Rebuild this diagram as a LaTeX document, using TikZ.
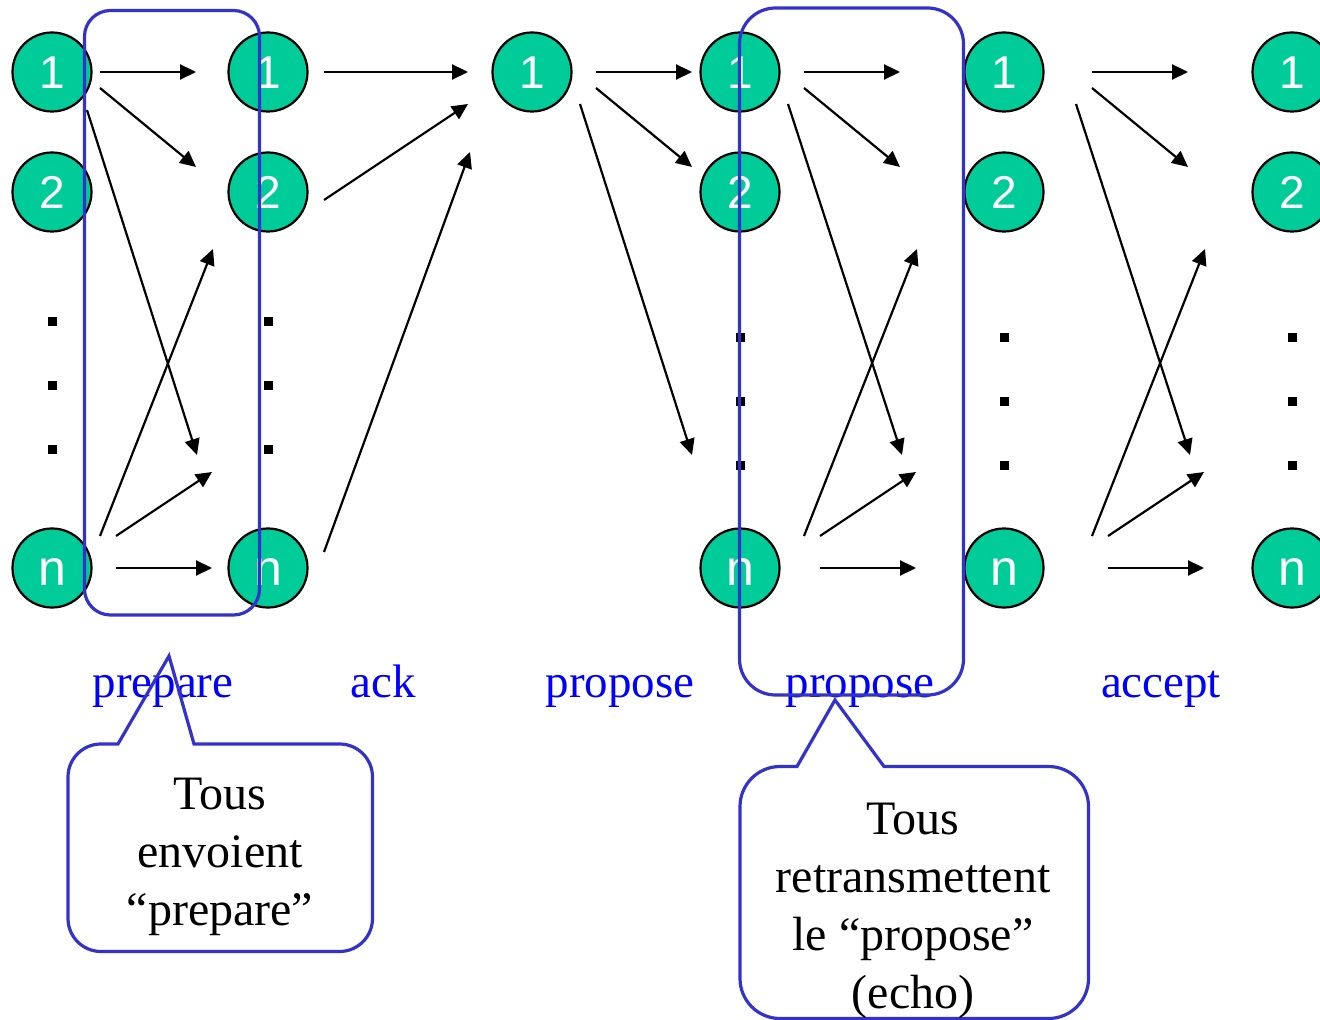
\documentclass[tikz,border=0pt]{standalone}
\usepackage{fontspec}
\setmainfont{Liberation Serif}
\newfontfamily\procfont{Liberation Sans}
\usetikzlibrary{arrows.meta}

\definecolor{procgreen}{RGB}{0,204,153}
\definecolor{frameblue}{RGB}{51,51,204}
\definecolor{phaseblue}{RGB}{0,0,255}

\begin{document}
\begin{tikzpicture}[x=0.5pt,y=-0.5pt,
  proc/.style={circle,draw=black,line width=1.1pt,fill=procgreen,
    minimum size=39.5pt,inner sep=0pt,text=white,
    font=\procfont\fontsize{23pt}{23pt}\selectfont,
    text height=17pt,text depth=0pt},
  procn/.style={proc,font=\procfont\fontsize{25pt}{25pt}\selectfont},
  gap/.style={rectangle,fill=black,minimum size=4.5pt,inner sep=0pt},
  msg/.style={-{Triangle[length=8pt,width=7.5pt]},line width=1.1pt},
  phase/.style={anchor=base,inner sep=0pt,text=phaseblue,
    font=\fontsize{23.5pt}{28pt}\selectfont},
  frame/.style={draw=frameblue,line width=1.6pt},
  note/.style={anchor=north,inner sep=0pt,align=center,
    font=\fontsize{24pt}{29pt}\selectfont},
]
\useasboundingbox (0,0) rectangle (1320,1020);

% ---------- processes ----------
\foreach \c/\x in {1/52,2/268,4/740,5/1004,6/1292}{
  \node[proc]  (c\c n1) at (\x,72)  {1};
  \node[proc]  (c\c n2) at (\x,192) {2};
  \node[procn] (c\c nn) at (\x,568) {n};
}
\node[proc] (c3n1) at (532,72) {1};

% vertical ellipses between process 2 and process n
\foreach \c/\x in {1/52,2/268}{
  \node[gap] (g\c a) at (\x,322) {};
  \node[gap] (g\c b) at (\x,386) {};
  \node[gap] (g\c c) at (\x,450) {};
}
\foreach \c/\x in {4/740,5/1004,6/1292}{
  \node[gap] (g\c a) at (\x,338) {};
  \node[gap] (g\c b) at (\x,402) {};
  \node[gap] (g\c c) at (\x,466) {};
}

% ---------- message end points ----------
% prepare
\coordinate (a1s) at (100,72);   \coordinate (a1e) at (196,72);
\coordinate (a2s) at (100,88);   \coordinate (a2e) at (196,167);
\coordinate (a3s) at (87,110);   \coordinate (a3e) at (197,455);
\coordinate (a4s) at (100,536);  \coordinate (a4e) at (213,249);
\coordinate (a5s) at (116,536);  \coordinate (a5e) at (212,472);
\coordinate (a6s) at (116,568);  \coordinate (a6e) at (212,568);
% ack
\coordinate (b1s) at (324,72);   \coordinate (b1e) at (468,72);
\coordinate (b2s) at (324,200);  \coordinate (b2e) at (468,104);
\coordinate (b3s) at (324,552);  \coordinate (b3e) at (470,152);
% propose
\coordinate (p1s) at (596,72);   \coordinate (p1e) at (692,72);
\coordinate (p2s) at (596,88);   \coordinate (p2e) at (692,167);
\coordinate (p3s) at (580,104);  \coordinate (p3e) at (692,455);
% propose (echo)
\coordinate (e1s) at (804,72);   \coordinate (e1e) at (900,72);
\coordinate (e2s) at (804,88);   \coordinate (e2e) at (900,167);
\coordinate (e3s) at (788,104);  \coordinate (e3e) at (902,455);
\coordinate (e4s) at (804,536);  \coordinate (e4e) at (917,249);
\coordinate (e5s) at (820,536);  \coordinate (e5e) at (916,472);
\coordinate (e6s) at (820,568);  \coordinate (e6e) at (916,568);
% accept
\coordinate (k1s) at (1092,72);  \coordinate (k1e) at (1188,72);
\coordinate (k2s) at (1092,88);  \coordinate (k2e) at (1188,167);
\coordinate (k3s) at (1076,104); \coordinate (k3e) at (1190,455);
\coordinate (k4s) at (1092,536); \coordinate (k4e) at (1205,249);
\coordinate (k5s) at (1108,536); \coordinate (k5e) at (1204,472);
\coordinate (k6s) at (1108,568); \coordinate (k6e) at (1204,568);

\foreach \m in {a1,a2,a3,a4,a5,a6,b1,b2,b3,p1,p2,p3,
                e1,e2,e3,e4,e5,e6,k1,k2,k3,k4,k5,k6}{
  \draw[msg] (\m s) -- (\m e);
}

% ---------- phase names ----------
\node[phase] (lprep) at (163,697)  {prepare};
\node[phase] (lack)  at (383,697)  {ack};
\node[phase] (lprop) at (620,697)  {propose};
\node[phase] (lecho) at (860,697)  {propose};
\node[phase] (lacc)  at (1161,697) {accept};

% ---------- highlighted rounds ----------
\draw[frame,rounded corners=13pt] (84.5,10.5) rectangle (259.5,615);
\draw[frame,rounded corners=18pt] (739.5,8) rectangle (963.5,695);

% ---------- call-outs (sharp pointer, rounded body) ----------
\draw[frame] (169,656) -- (194,744)
  [rounded corners=16.5pt] -- (372.5,744) -- (372.5,951.5) -- (68,951.5)
  -- (68,744) [sharp corners] -- (118,744) -- cycle;
\node[note] (t1) at (220,778) {Tous\\envoient\\“prepare”};

\draw[frame] (835,700) -- (884,766.5)
  [rounded corners=20pt] -- (1088.5,766.5) -- (1088.5,1018.5) -- (740,1018.5)
  -- (740,766.5) [sharp corners] -- (797,766.5) -- cycle;
\node[note] (t2) at (913,803)
  {Tous\\retransmettent\\le “propose”\\(echo)};
\end{tikzpicture}
\end{document}
